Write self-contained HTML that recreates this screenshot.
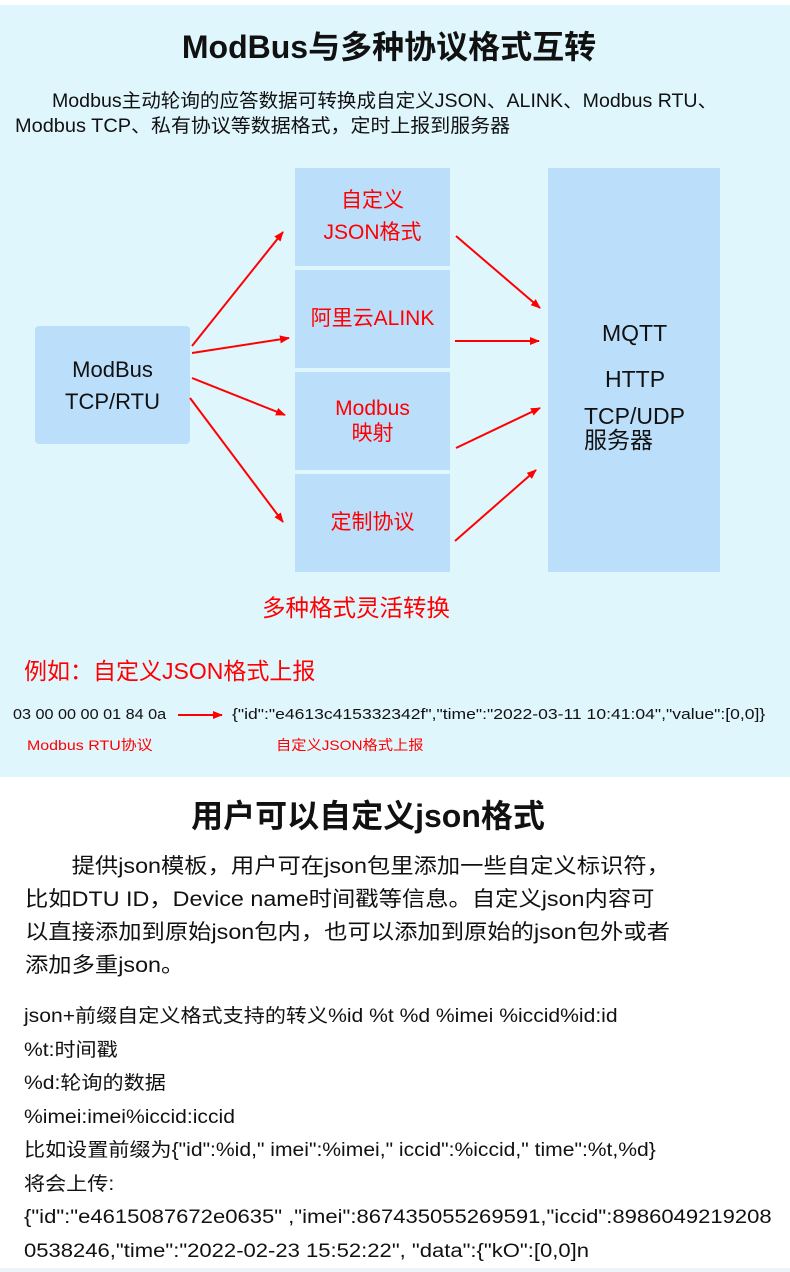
<!DOCTYPE html>
<html><head><meta charset="utf-8"><style>
*{margin:0;padding:0;box-sizing:border-box}
body{width:790px;height:1272px;background:#fff;position:relative;overflow:hidden;font-family:"Liberation Sans","Noto Sans CJK SC",sans-serif;color:#111}
.a{position:absolute;white-space:nowrap}
.bg{position:absolute;left:0;top:5px;width:790px;height:772px;background:#e0f6fd}
.b{position:absolute;background:#bbdffb}
.c{text-align:center;color:#f00;font-size:21px;line-height:32px;display:flex;flex-direction:column;justify-content:center;align-items:center}
.n{transform-origin:0 0}
</style></head><body>
<div class="bg"></div>
<div class="a" style="left:0;width:778px;top:22px;text-align:center;font-size:32px;font-weight:bold">ModBus与多种协议格式互转</div>
<div class="a n" style="left:52px;top:86px;font-size:19px;transform:scaleX(1.03)">Modbus主动轮询的应答数据可转换成自定义JSON、ALINK、Modbus RTU、</div>
<div class="a n" style="left:15px;top:111px;font-size:19px;transform:scaleX(1.05)">Modbus TCP、私有协议等数据格式，定时上报到服务器</div>

<div class="b" style="left:35px;top:326px;width:155px;height:118px;border-radius:4px;font-size:22px;line-height:32px;text-align:center;padding-top:28px">ModBus<br>TCP/RTU</div>
<div class="b c" style="left:295px;top:168px;width:155px;height:98px">自定义<br>JSON格式</div>
<div class="b c" style="left:295px;top:270px;width:155px;height:98px">阿里云ALINK</div>
<div class="b c" style="left:295px;top:372px;width:155px;height:98px;line-height:25px">Modbus<br>映射</div>
<div class="b c" style="left:295px;top:474px;width:155px;height:98px">定制协议</div>
<div class="b" style="left:548px;top:168px;width:172px;height:404px"></div>
<div class="a" style="left:602px;top:320px;font-size:23px">MQTT</div>
<div class="a" style="left:605px;top:366px;font-size:23px">HTTP</div>
<div class="a" style="left:584px;top:404px;font-size:23px;line-height:24px">TCP/UDP<br>服务器</div>

<svg class="a" style="left:0;top:0" width="790" height="780">
<defs><marker id="m" markerWidth="10" markerHeight="8" refX="9" refY="4" orient="auto" markerUnits="userSpaceOnUse"><path d="M0,0L10,4L0,8z" fill="#f00"/></marker></defs>
<g stroke="#f00" stroke-width="2" marker-end="url(#m)">
<line x1="192" y1="346" x2="283" y2="232"/>
<line x1="192" y1="353" x2="289" y2="338"/>
<line x1="192" y1="378" x2="285" y2="415"/>
<line x1="190" y1="398" x2="283" y2="522"/>
<line x1="456" y1="236" x2="540" y2="308"/>
<line x1="455" y1="341" x2="539" y2="341"/>
<line x1="456" y1="448" x2="540" y2="408"/>
<line x1="455" y1="541" x2="536" y2="470"/>
<line x1="178" y1="715" x2="222" y2="715"/>
</g></svg>

<div class="a" style="left:262px;top:589px;font-size:23.5px;color:#f00">多种格式灵活转换</div>
<div class="a" style="left:24px;top:652px;font-size:23px;color:#f00">例如：自定义JSON格式上报</div>
<div class="a n" style="left:13px;top:706px;font-size:15px;transform:scaleX(1.08)">03 00 00 00 01 84 0a</div>
<div class="a n" style="left:232px;top:706px;font-size:15px;transform:scaleX(1.17)">{"id":"e4613c415332342f","time":"2022-03-11 10:41:04","value":[0,0]}</div>
<div class="a n" style="left:27px;top:735px;font-size:14px;color:#f00;transform:scaleX(1.14)">Modbus RTU协议</div>
<div class="a n" style="left:276px;top:735px;font-size:14px;color:#f00;transform:scaleX(1.09)">自定义JSON格式上报</div>

<div class="a" style="left:0;width:736px;top:791px;text-align:center;font-size:32px;font-weight:bold">用户可以自定义json格式</div>
<div class="a n" style="left:25px;top:850px;font-size:21px;line-height:33px;transform:scaleX(1.11)">　　提供json模板，用户可在json包里添加一些自定义标识符，<br>比如DTU ID，Device name时间戳等信息。自定义json内容可<br>以直接添加到原始json包内，也可以添加到原始的json包外或者<br>添加多重json。</div>
<div class="a n" style="left:24px;top:1000px;font-size:19px;line-height:33.5px;transform:scaleX(1.11)">json+前缀自定义格式支持的转义%id %t %d %imei %iccid%id:id<br>%t:时间戳<br>%d:轮询的数据<br>%imei:imei%iccid:iccid<br>比如设置前缀为{"id":%id," imei":%imei," iccid":%iccid," time":%t,%d}<br>将会上传:</div>
<div class="a n" style="left:24px;top:1201px;font-size:19px;line-height:33.5px;transform:scaleX(1.16)">{"id":"e4615087672e0635" ,"imei":867435055269591,"iccid":8986049219208<br>0538246,"time":"2022-02-23 15:52:22", "data":{"kO":[0,0]n</div>
<div class="a" style="left:0;top:1268px;width:790px;height:4px;background:#eef3fa"></div>
</body></html>
